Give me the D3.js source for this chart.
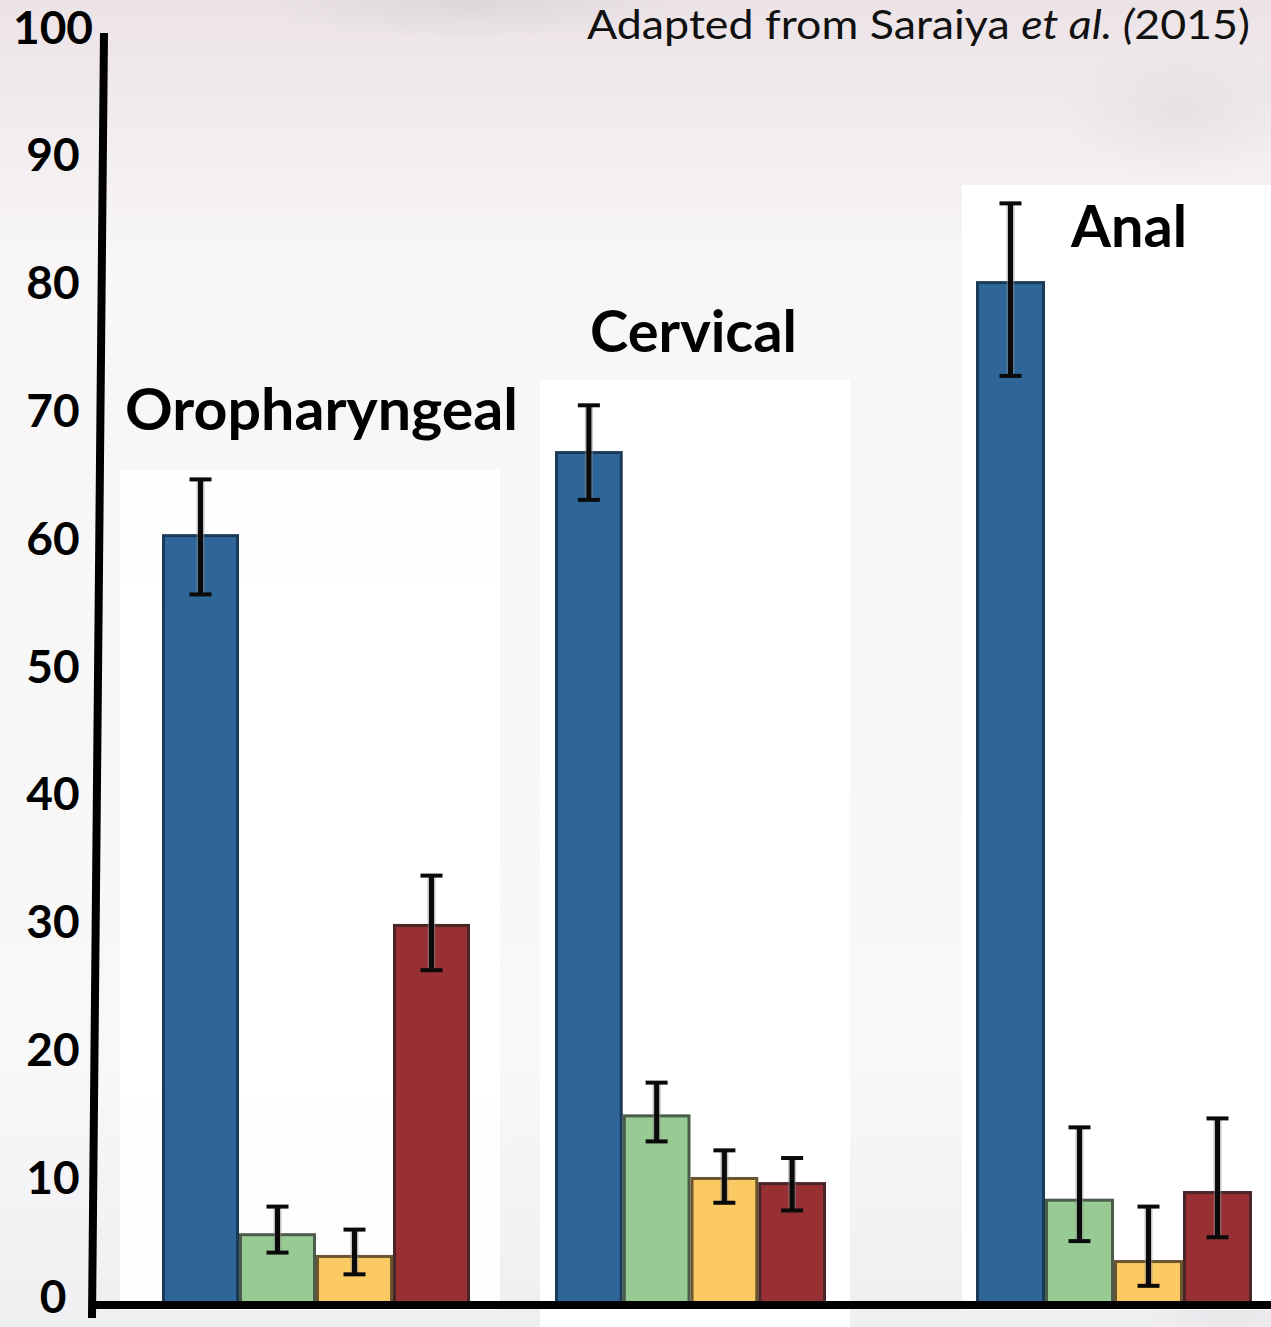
<!DOCTYPE html>
<html>
<head>
<meta charset="utf-8">
<script src="https://cdn.jsdelivr.net/npm/d3@7"></script>
<style>
  body { margin: 0; background: #fff; }
  svg { display: block; }
</style>
</head>
<body>
<script>
// cancer sites and the four series (HPV 16/18, other 9-valent types, other HR types, HPV negative)
const sites = ["Oropharyngeal", "Cervical", "Anal"];
const series = ["blue", "green", "yellow", "red"];

// bar heights (%) per site, in series order
const values = [
  [60.2, 5.5, 3.8, 29.7],
  [66.7, 14.8, 9.9, 9.5],
  [80.0, 8.2, 3.4, 8.8]
];
// error bar ends
const errHigh = [
  [64.6, 7.7, 5.9, 33.6],
  [70.4, 17.4, 12.1, 11.5],
  [86.2, 13.9, 7.7, 14.6]
];
const errLow = [
  [55.6, 4.1, 2.4, 26.2],
  [63.0, 12.8, 8.0, 7.4],
  [72.7, 5.0, 1.5, 5.3]
];
const yTicks = [0, 10, 20, 30, 40, 50, 60, 70, 80, 90, 100];

const W = 1271, H = 1327;
const svg = d3.select("body").append("svg").attr("width", W).attr("height", H);

// background, light cloudy grey with white panels
const defs = svg.append("defs");
const bg = defs.append("linearGradient").attr("id", "bg").attr("x1", 0).attr("y1", 0).attr("x2", 0).attr("y2", 1);
bg.append("stop").attr("offset", "0%").attr("stop-color", "#ece3e7");
bg.append("stop").attr("offset", "20%").attr("stop-color", "#f8f6f7");
bg.append("stop").attr("offset", "80%").attr("stop-color", "#f8f8f9");
bg.append("stop").attr("offset", "100%").attr("stop-color", "#efeef1");
const cloud = defs.append("radialGradient").attr("id", "cloud");
cloud.append("stop").attr("offset", "0%").attr("stop-color", "#d9d3d8").attr("stop-opacity", 0.8);
cloud.append("stop").attr("offset", "100%").attr("stop-color", "#d9d3d8").attr("stop-opacity", 0);

svg.append("rect").attr("width", W).attr("height", H).attr("fill", "url(#bg)");
svg.append("ellipse").attr("cx", 470).attr("cy", 0).attr("rx", 220).attr("ry", 40).attr("fill", "url(#cloud)");
svg.append("ellipse").attr("cx", 1180).attr("cy", 110).attr("rx", 120).attr("ry", 70).attr("fill", "url(#cloud)").attr("opacity", 0.5);
svg.append("ellipse").attr("cx", 1230).attr("cy", 1300).attr("rx", 90).attr("ry", 50).attr("fill", "url(#cloud)").attr("opacity", 0.5);

svg.append("rect").attr("x", 120).attr("y", 470).attr("width", 380).attr("height", 840).attr("fill", "#fff").attr("opacity", 0.9);
svg.append("rect").attr("x", 540).attr("y", 380).attr("width", 310).attr("height", 947).attr("fill", "#fff");
svg.append("rect").attr("x", 962).attr("y", 185).attr("width", 309).attr("height", 1125).attr("fill", "#fff");

// scales
const y = d3.scaleLinear().domain([0, 100]).range([1305, 27]);
const groupX = d3.scaleOrdinal().domain(sites).range([162, 555, 976]);
const groupW = d3.scaleOrdinal().domain(sites).range([308, 271, 276]);
const fill = d3.scaleOrdinal().domain(series).range(["#2e6699", "#98cb94", "#fcca62", "#972f33"]);
const edge = d3.scaleOrdinal().domain(series).range(["#1b3a58", "#4b5c4a", "#6a5530", "#4a2426"]);

const bars = [];
sites.forEach((s, i) => {
  const inner = d3.scaleBand().domain(series).range([0, groupW(s)]).padding(0);
  series.forEach((k, j) => {
    bars.push({
      site: s, key: k, v: values[i][j], hi: errHigh[i][j], lo: errLow[i][j],
      x: groupX(s) + inner(k), w: inner.bandwidth()
    });
  });
});

const g = svg.append("g");
g.selectAll("rect.bar").data(bars).join("rect")
  .attr("class", "bar")
  .attr("x", d => d.x + 1.5)
  .attr("y", d => y(d.v))
  .attr("width", d => d.w - 3)
  .attr("height", d => y(0) - y(d.v))
  .attr("fill", d => fill(d.key))
  .attr("stroke", d => edge(d.key))
  .attr("stroke-width", 3);

// error bars
const eb = g.selectAll("g.err").data(bars).join("g").attr("class", "err");
eb.append("line")
  .attr("x1", d => d.x + d.w / 2).attr("x2", d => d.x + d.w / 2)
  .attr("y1", d => y(d.hi)).attr("y2", d => y(d.lo))
  .attr("stroke", "#888").attr("stroke-width", 8).attr("opacity", 0.5);
eb.append("line")
  .attr("x1", d => d.x + d.w / 2).attr("x2", d => d.x + d.w / 2)
  .attr("y1", d => y(d.hi)).attr("y2", d => y(d.lo))
  .attr("stroke", "#0a0a0a").attr("stroke-width", 5);
eb.selectAll("line.cap").data(d => [[d, d.hi], [d, d.lo]]).join("line")
  .attr("class", "cap")
  .attr("x1", ([d]) => d.x + d.w / 2 - 11).attr("x2", ([d]) => d.x + d.w / 2 + 11)
  .attr("y1", ([, v]) => y(v)).attr("y2", ([, v]) => y(v))
  .attr("stroke", "#0a0a0a").attr("stroke-width", 4);

// axes
svg.append("line").attr("x1", 94).attr("x2", W).attr("y1", y(0)).attr("y2", y(0))
  .attr("stroke", "#000").attr("stroke-width", 8);
svg.append("line").attr("x1", 104).attr("y1", 33).attr("x2", 92).attr("y2", 1318)
  .attr("stroke", "#000").attr("stroke-width", 8);

svg.append("g").selectAll("text").data(yTicks).join("text")
  .attr("x", 53).attr("y", d => Math.min(y(d), 1296))
  .attr("dy", "0.36em")
  .attr("text-anchor", "middle")
  .attr("font-family", "Lato, sans-serif").attr("font-weight", 700)
  .attr("font-size", 46).attr("fill", "#000")
  .text(d => d);

// site labels
const labelPos = { Oropharyngeal: [125, 430, 393], Cervical: [590, 352, 207], Anal: [1071, 247, 116] };
svg.append("g").selectAll("text").data(sites).join("text")
  .attr("x", d => labelPos[d][0]).attr("y", d => labelPos[d][1])
  .attr("textLength", d => labelPos[d][2]).attr("lengthAdjust", "spacingAndGlyphs")
  .attr("font-family", "Lato, sans-serif").attr("font-weight", 700)
  .attr("font-size", 58).attr("fill", "#000")
  .text(d => d);

// source note
const note = svg.append("text").attr("x", 587).attr("y", 39)
  .attr("textLength", 663).attr("lengthAdjust", "spacingAndGlyphs")
  .attr("font-family", "Lato, sans-serif").attr("font-size", 40).attr("fill", "#111");
note.append("tspan").text("Adapted from Saraiya ");
note.append("tspan").attr("font-style", "italic").text("et al. (");
note.append("tspan").text("2015)");
</script>
</body>
</html>
